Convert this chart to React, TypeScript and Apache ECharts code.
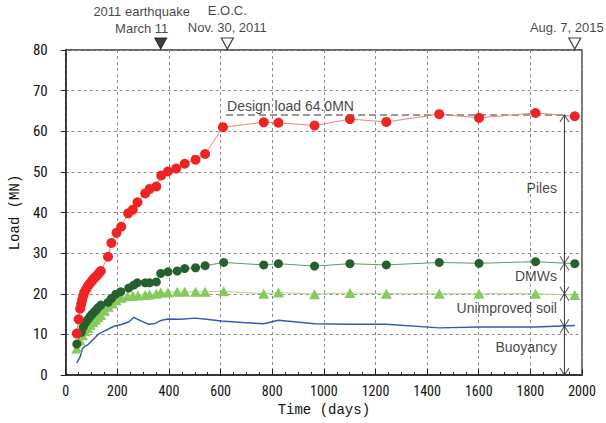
import { useEffect, useRef } from 'react';
import * as echarts from 'echarts';

// ---- data ----
const pileDays = [43, 50, 56, 60, 64, 68, 72, 79, 85, 92, 100, 106, 112, 120, 128, 136, 164, 177, 197, 215, 242, 260, 278, 308, 325, 351, 370, 396, 428, 461, 503, 540, 609, 767, 824, 964, 1101, 1242, 1447, 1601, 1820, 1972];
const pileLoads = [10.2, 13.7, 16.3, 17.5, 18.5, 19.5, 20.3, 21.1, 21.8, 22.4, 23.0, 23.5, 24.0, 24.4, 25.0, 25.6, 29.1, 32.5, 35.0, 36.5, 39.8, 40.7, 42.5, 44.7, 45.8, 46.4, 49.1, 50.1, 50.8, 52.0, 53.0, 54.4, 61.0, 62.2, 62.1, 61.4, 63.0, 62.3, 64.2, 63.3, 64.5, 63.7];

const dmwDays = [43, 60, 68, 76, 85, 93, 101, 110, 118, 126, 136, 164, 177, 194, 213, 244, 263, 277, 308, 325, 351, 368, 396, 432, 461, 503, 540, 612, 767, 824, 964, 1101, 1242, 1447, 1601, 1820, 1972];
const dmwLoads = [7.6, 10.5, 11.8, 12.8, 13.6, 14.3, 14.9, 15.5, 16.0, 16.6, 17.2, 17.9, 18.8, 19.9, 20.5, 21.4, 22.1, 22.7, 22.7, 22.7, 22.9, 25.0, 25.4, 25.6, 26.2, 26.4, 26.9, 27.7, 27.1, 27.4, 26.8, 27.4, 27.1, 27.7, 27.5, 27.9, 27.4];

const soilDays = [43, 55, 65, 75, 85, 95, 105, 115, 125, 136, 150, 165, 180, 195, 215, 240, 260, 280, 308, 325, 351, 368, 396, 432, 461, 503, 540, 612, 767, 824, 964, 1101, 1242, 1447, 1601, 1820, 1972];
const soilLoads = [6.5, 8.5, 9.8, 10.8, 11.6, 12.4, 13.0, 13.6, 14.2, 14.8, 15.8, 16.8, 17.6, 18.4, 19.0, 19.4, 19.5, 19.6, 19.7, 19.8, 20.0, 20.3, 20.3, 20.5, 20.5, 20.5, 20.5, 20.6, 20.0, 20.3, 19.9, 20.2, 20.0, 20.0, 20.0, 20.0, 19.7];

const buoyDays = [43, 56, 65, 73, 85, 104, 130, 155, 187, 219, 245, 264, 289, 321, 346, 372, 397, 444, 501, 545, 602, 685, 767, 824, 964, 1101, 1242, 1447, 1601, 1820, 1972];
const buoyLoads = [3.0, 4.5, 6.5, 7.0, 7.4, 8.6, 10.2, 11.0, 12.0, 12.5, 13.1, 14.2, 13.4, 12.5, 12.7, 13.5, 13.8, 13.75, 14.0, 13.75, 13.3, 12.9, 12.6, 13.5, 12.6, 12.5, 12.5, 11.6, 11.8, 11.8, 12.2];

const designLoad = 64.0;
const designStartDay = 621;
const dimDay = 1932;
const dimBounds = [0, 12, 20, 27.5, 64];
const dimLabels = ['Buoyancy', 'Unimproved soil', 'DMWs', 'Piles'];
const dimLabelLoads = [6.9, 16.5, 24.4, 46];

const eventDays = [368, 626, 1972];
const eventTexts = ['2011 earthquake\nMarch 11', 'E.O.C.\nNov. 30, 2011', 'Aug. 7, 2015'];
const eventFilled = [true, false, false];

const zip = (a: number[], b: number[]) => a.map((d, i) => [d, b[i]]);

const tickFont = "'Liberation Sans Narrow', 'Roboto Condensed', 'Liberation Sans', Arial, sans-serif";
const textFont = "'Liberation Sans', Arial, sans-serif";
const monoFont = "'Liberation Mono', 'DejaVu Sans Mono', monospace";

const triDown = 'path://M0,0 L12,0 L6,11 Z';
const chevUp = 'path://M0,8 L5,0 L10,8';
const chevDown = 'path://M0,0 L5,8 L10,0';
const chevX = 'path://M0,0 L5,8 L10,0 M0,16 L5,8 L10,16';

export default function App() {
  const ref = useRef<HTMLDivElement>(null);
  useEffect(() => {
    document.body.style.margin = '0';
    const chart = echarts.init(ref.current!, null, { renderer: 'svg' });

    const dimMarks = dimBounds.map((v, i) => {
      if (i === 0) return { value: [dimDay, v], symbol: chevDown, symbolSize: [9, 7], symbolOffset: [0, -3.5] };
      if (i === dimBounds.length - 1) return { value: [dimDay, v], symbol: chevUp, symbolSize: [9, 7], symbolOffset: [0, 3.5] };
      return { value: [dimDay, v], symbol: chevX, symbolSize: [9, 14] };
    });

    const option: any = {
      animation: false,
      backgroundColor: '#ffffff',
      grid: {
        left: 61, right: 24, top: 50, bottom: 48,
        show: true, borderColor: '#333', borderWidth: 1.3, backgroundColor: 'transparent',
      },
      xAxis: {
        type: 'value', min: 0, max: 2000, interval: 200,
        name: 'Time (days)', nameLocation: 'middle', nameGap: 27,
        nameTextStyle: { fontFamily: monoFont, fontSize: 14, color: '#111' },
        axisLine: { show: true, lineStyle: { color: '#222', width: 1.5 } },
        axisTick: { show: true, inside: true, length: 6, lineStyle: { color: '#222' } },
        minorTick: { show: true, splitNumber: 4, length: 3, lineStyle: { color: '#222' } },
        axisLabel: { fontFamily: tickFont, fontSize: 14, color: '#111', margin: 9, formatter: (v: number) => String(v) },
        splitLine: { show: true, lineStyle: { color: '#8a8a8a', type: [3, 3], width: 1 } },
      },
      yAxis: {
        type: 'value', min: 0, max: 80, interval: 10,
        name: 'Load (MN)', nameLocation: 'middle', nameGap: 38,
        nameTextStyle: { fontFamily: monoFont, fontSize: 14, color: '#111' },
        axisLine: { show: true, lineStyle: { color: '#222', width: 1.5 } },
        axisTick: { show: true, inside: false, length: 5, lineStyle: { color: '#222' } },
        axisLabel: { fontFamily: tickFont, fontSize: 15, color: '#111', margin: 18, formatter: (v: number) => String(v) },
        splitLine: { show: true, lineStyle: { color: '#8a8a8a', type: [3, 3], width: 1 } },
      },
      series: [
        {
          name: 'Buoyancy', type: 'line', data: zip(buoyDays, buoyLoads), showSymbol: false, symbol: 'none',
          lineStyle: { color: '#3559b8', width: 1.5 }, z: 3,
        },
        {
          name: 'Unimproved soil', type: 'line', data: zip(soilDays, soilLoads),
          symbol: 'triangle', symbolSize: [11, 10],
          itemStyle: { color: '#86c95c' }, lineStyle: { color: '#a8d98e', width: 1 }, z: 4,
        },
        {
          name: 'DMWs', type: 'line', data: zip(dmwDays, dmwLoads),
          symbol: 'circle', symbolSize: 9,
          itemStyle: { color: '#25602e' }, lineStyle: { color: '#5f9a63', width: 1 }, z: 5,
        },
        {
          name: 'Piles', type: 'line', data: zip(pileDays, pileLoads),
          symbol: 'circle', symbolSize: 10,
          itemStyle: { color: '#ee2424' }, lineStyle: { color: '#f37d7d', width: 1 }, z: 6,
        },
        {
          name: 'design', type: 'line', data: [[designStartDay, designLoad], [dimDay, designLoad]],
          symbol: 'none', lineStyle: { color: '#333', width: 1, type: [7, 4] }, z: 2,
        },
        {
          name: 'designLabel', type: 'scatter', data: [[designStartDay + 4, designLoad]],
          symbolSize: 1, itemStyle: { color: 'transparent' },
          label: {
            show: true, position: 'top', align: 'left', distance: 2,
            formatter: 'Design load ' + designLoad.toFixed(1) + 'MN',
            fontFamily: textFont, fontSize: 14, color: '#111',
          },
          z: 7,
        },
        {
          name: 'dimLine', type: 'line', data: [[dimDay, dimBounds[0]], [dimDay, dimBounds[dimBounds.length - 1]]],
          symbol: 'none', lineStyle: { color: '#333', width: 1 }, z: 7,
        },
        {
          name: 'dimMarks', type: 'scatter', data: dimMarks,
          itemStyle: { color: 'none', borderColor: '#333', borderWidth: 1 }, z: 8,
        },
        {
          name: 'dimLabels', type: 'scatter',
          data: dimLabels.map((t, i) => ({ value: [dimDay, dimLabelLoads[i]], name: t })),
          symbolSize: 1, itemStyle: { color: 'transparent' },
          label: {
            show: true, position: 'left', distance: 7, formatter: '{b}',
            fontFamily: textFont, fontSize: 14, color: '#111',
          },
          z: 8,
        },
        {
          name: 'events', type: 'scatter', clip: false,
          data: eventDays.map((d, i) => ({
            value: [d, 80],
            itemStyle: eventFilled[i]
              ? { color: '#111', borderColor: '#111', borderWidth: 1 }
              : { color: '#fff', borderColor: '#111', borderWidth: 1.2 },
            label: {
              formatter: eventTexts[i],
              offset: i === 0 ? [-19, 0] : i === 2 ? [-8, 0] : [0, 0],
            },
          })),
          symbol: triDown, symbolSize: [12, 11], symbolOffset: [0, -6.5],
          label: {
            show: true, position: 'top', distance: 1, align: 'center',
            fontFamily: textFont, fontSize: 13, lineHeight: 17, color: '#111',
          },
          z: 9,
        },
      ],
    };

    chart.setOption(option);
    return () => chart.dispose();
  }, []);
  return <div ref={ref} style={{ width: 606, height: 423 }} />;
}
